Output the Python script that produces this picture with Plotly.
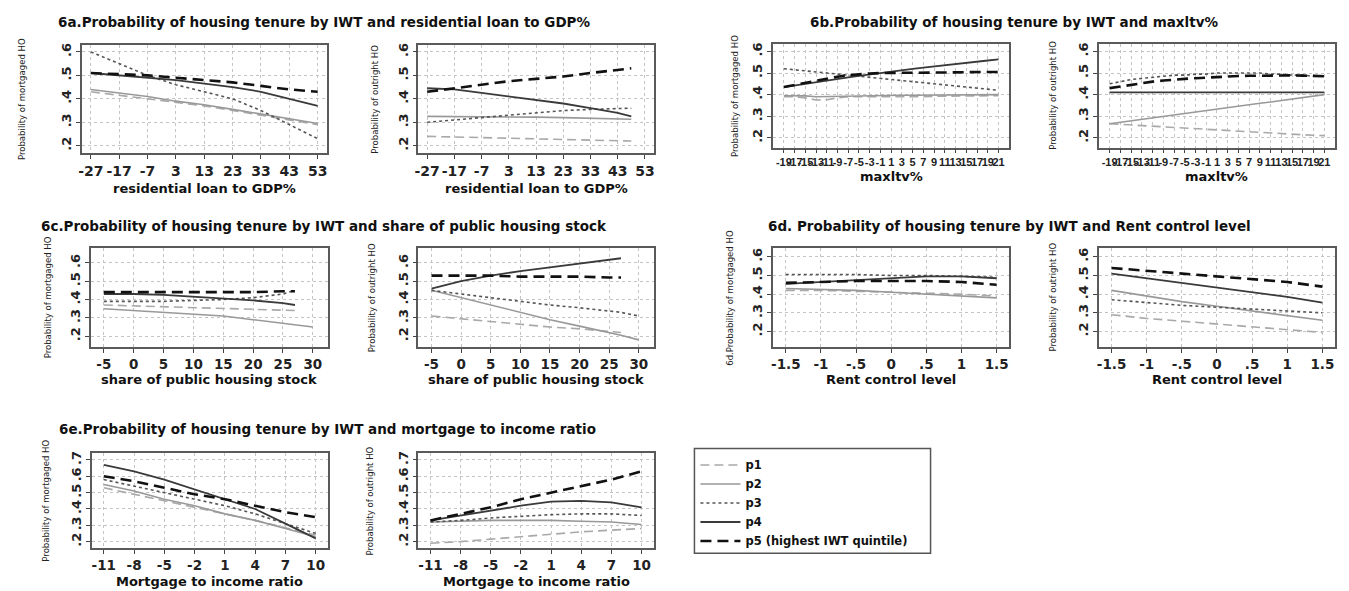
import plotly.graph_objects as go

W, H = 1349, 591

# ---------------- data ----------------
series_names = ["p1", "p2", "p3", "p4", "p5 (highest IWT quintile)"]

# 6a residential loan to GDP%
x6a_l = [-27, -17, -7, 3, 13, 23, 33, 43, 53]
a_l_p1 = [0.43, 0.415, 0.40, 0.385, 0.37, 0.35, 0.33, 0.31, 0.29]
a_l_p2 = [0.44, 0.425, 0.41, 0.39, 0.375, 0.355, 0.335, 0.315, 0.295]
a_l_p3 = [0.60, 0.55, 0.50, 0.46, 0.43, 0.40, 0.35, 0.29, 0.23]
a_l_p4 = [0.51, 0.50, 0.49, 0.48, 0.465, 0.45, 0.43, 0.40, 0.37]
a_l_p5 = [0.51, 0.505, 0.50, 0.49, 0.48, 0.47, 0.455, 0.44, 0.43]

x6a_r = [-27, -17, -7, 3, 13, 23, 33, 43, 48]
a_r_p1 = [0.24, 0.237, 0.235, 0.232, 0.23, 0.227, 0.224, 0.221, 0.22]
a_r_p2 = [0.325, 0.325, 0.324, 0.323, 0.322, 0.32, 0.318, 0.315, 0.313]
a_r_p3 = [0.30, 0.31, 0.32, 0.33, 0.34, 0.35, 0.355, 0.36, 0.36]
a_r_p4 = [0.445, 0.44, 0.425, 0.41, 0.395, 0.38, 0.36, 0.34, 0.325]
a_r_p5 = [0.43, 0.445, 0.46, 0.475, 0.485, 0.495, 0.51, 0.525, 0.53]
ticks_6a = [-27, -17, -7, 3, 13, 23, 33, 43, 53]

# 6b maxltv%
x6b = [-19, -17, -15, -13, -11, -9, -7, -5, -3, -1, 1, 3, 5, 7, 9, 11, 13, 15, 17, 19, 21]
b_l_p1 = [0.39, 0.39, 0.385, 0.375, 0.376, 0.385, 0.39, 0.39, 0.388, 0.39, 0.39, 0.391, 0.39, 0.39, 0.392, 0.392, 0.393, 0.393, 0.394, 0.394, 0.395]
b_l_p2 = [0.395, 0.395, 0.394, 0.39, 0.391, 0.394, 0.395, 0.395, 0.396, 0.396, 0.396, 0.397, 0.397, 0.397, 0.398, 0.398, 0.398, 0.399, 0.399, 0.40, 0.40]
b_l_p3 = [0.52, 0.515, 0.51, 0.506, 0.50, 0.495, 0.49, 0.486, 0.48, 0.476, 0.47, 0.466, 0.46, 0.455, 0.45, 0.446, 0.44, 0.436, 0.43, 0.426, 0.42]
b_l_p4 = [0.435, 0.443, 0.451, 0.458, 0.466, 0.473, 0.48, 0.487, 0.494, 0.50, 0.507, 0.513, 0.519, 0.525, 0.531, 0.537, 0.542, 0.548, 0.553, 0.558, 0.563]
b_l_p5 = [0.435, 0.445, 0.455, 0.465, 0.475, 0.483, 0.49, 0.495, 0.498, 0.50, 0.50, 0.50, 0.501, 0.501, 0.502, 0.502, 0.503, 0.504, 0.505, 0.505, 0.505]

b_r_p1 = [0.265, 0.262, 0.259, 0.256, 0.253, 0.25, 0.247, 0.244, 0.241, 0.238, 0.235, 0.232, 0.229, 0.226, 0.223, 0.22, 0.218, 0.216, 0.214, 0.212, 0.21]
b_r_p2 = [0.265, 0.272, 0.279, 0.286, 0.293, 0.30, 0.306, 0.313, 0.32, 0.326, 0.333, 0.34, 0.346, 0.353, 0.36, 0.366, 0.373, 0.38, 0.386, 0.393, 0.40]
b_r_p3 = [0.45, 0.46, 0.47, 0.475, 0.48, 0.485, 0.49, 0.49, 0.495, 0.495, 0.50, 0.50, 0.50, 0.50, 0.50, 0.495, 0.495, 0.49, 0.49, 0.485, 0.485]
b_r_p4 = [0.41, 0.41, 0.41, 0.41, 0.41, 0.41, 0.41, 0.41, 0.41, 0.41, 0.41, 0.41, 0.41, 0.41, 0.41, 0.41, 0.41, 0.41, 0.41, 0.41, 0.41]
b_r_p5 = [0.43, 0.438, 0.446, 0.453, 0.46, 0.465, 0.47, 0.473, 0.476, 0.479, 0.482, 0.484, 0.486, 0.487, 0.488, 0.489, 0.489, 0.489, 0.488, 0.487, 0.485]

# 6c share of public housing stock
x6c = [-5, 0, 5, 10, 15, 20, 25, 27, 30]
c_l_p1 = [0.37, 0.365, 0.36, 0.355, 0.35, 0.345, 0.34, 0.34, None]
c_l_p2 = [0.35, 0.34, 0.33, 0.32, 0.31, 0.29, 0.27, 0.26, 0.25]
c_l_p3 = [0.39, 0.39, 0.39, 0.395, 0.40, 0.41, 0.43, 0.45, None]
c_l_p4 = [0.43, 0.43, 0.425, 0.415, 0.405, 0.395, 0.38, 0.37, None]
c_l_p5 = [0.44, 0.44, 0.44, 0.44, 0.44, 0.44, 0.445, 0.445, None]

c_r_p1 = [0.31, 0.295, 0.28, 0.265, 0.25, 0.24, 0.225, 0.22, None]
c_r_p2 = [0.45, 0.41, 0.37, 0.33, 0.29, 0.255, 0.22, 0.205, 0.18]
c_r_p3 = [0.45, 0.43, 0.41, 0.39, 0.37, 0.355, 0.335, 0.33, 0.31]
c_r_p4 = [0.46, 0.50, 0.53, 0.555, 0.575, 0.595, 0.615, 0.625, None]
c_r_p5 = [0.53, 0.53, 0.53, 0.525, 0.525, 0.525, 0.52, 0.52, None]
ticks_6c = [-5, 0, 5, 10, 15, 20, 25, 30]

# 6d Rent control level
x6d = [-1.5, -1, -0.5, 0, 0.5, 1, 1.5]
d_l_p1 = [0.42, 0.42, 0.415, 0.41, 0.405, 0.40, 0.39]
d_l_p2 = [0.43, 0.425, 0.42, 0.41, 0.40, 0.39, 0.38]
d_l_p3 = [0.505, 0.505, 0.505, 0.50, 0.50, 0.495, 0.49]
d_l_p4 = [0.455, 0.465, 0.475, 0.485, 0.495, 0.495, 0.485]
d_l_p5 = [0.46, 0.465, 0.47, 0.47, 0.47, 0.465, 0.45]

d_r_p1 = [0.29, 0.27, 0.255, 0.24, 0.225, 0.21, 0.195]
d_r_p2 = [0.42, 0.39, 0.36, 0.335, 0.31, 0.285, 0.26]
d_r_p3 = [0.37, 0.355, 0.34, 0.33, 0.32, 0.31, 0.30]
d_r_p4 = [0.51, 0.485, 0.46, 0.435, 0.41, 0.385, 0.355]
d_r_p5 = [0.54, 0.525, 0.51, 0.495, 0.48, 0.465, 0.44]
ticks_6d = [-1.5, -1, -0.5, 0, 0.5, 1, 1.5]
labels_6d = ["-1.5", "-1", "-.5", "0", ".5", "1", "1.5"]

# 6e Mortgage to income ratio
x6e = [-11, -8, -5, -2, 1, 4, 7, 10]
e_l_p1 = [0.53, 0.49, 0.45, 0.41, 0.37, 0.33, 0.285, 0.24]
e_l_p2 = [0.55, 0.51, 0.46, 0.42, 0.37, 0.33, 0.28, 0.23]
e_l_p3 = [0.58, 0.54, 0.50, 0.46, 0.42, 0.37, 0.31, 0.25]
e_l_p4 = [0.67, 0.63, 0.58, 0.52, 0.46, 0.40, 0.31, 0.22]
e_l_p5 = [0.60, 0.57, 0.53, 0.49, 0.46, 0.42, 0.38, 0.35]

e_r_p1 = [0.19, 0.20, 0.215, 0.23, 0.245, 0.26, 0.27, 0.28]
e_r_p2 = [0.32, 0.325, 0.33, 0.33, 0.33, 0.325, 0.32, 0.305]
e_r_p3 = [0.32, 0.33, 0.345, 0.355, 0.365, 0.37, 0.37, 0.36]
e_r_p4 = [0.33, 0.36, 0.39, 0.42, 0.445, 0.45, 0.44, 0.41]
e_r_p5 = [0.33, 0.37, 0.41, 0.46, 0.50, 0.54, 0.58, 0.63]
ticks_6e = [-11, -8, -5, -2, 1, 4, 7, 10]

yticks_a = [0.2, 0.3, 0.4, 0.5, 0.6]
ylabels_a = [".2", ".3", ".4", ".5", ".6"]
yticks_e = [0.2, 0.3, 0.4, 0.5, 0.6, 0.7]
ylabels_e = [".2", ".3", ".4", ".5", ".6", ".7"]

# ---------------- styling ----------------
FONT = "DejaVu Sans"
NARROWTICK = "Liberation Sans"
NARROW = "DejaVu Sans Condensed, Liberation Sans Narrow, Liberation Sans"
styles = [
    dict(color="#a9a9a9", width=1.6, dash="9px,5px"),
    dict(color="#999999", width=1.6, dash="solid"),
    dict(color="#555555", width=1.6, dash="dot"),
    dict(color="#3a3a3a", width=1.8, dash="solid"),
    dict(color="#111111", width=2.6, dash="11px,6px"),
]

MORT = "Probability of mortgaged HO"
OUT = "Probability of outright HO"

panels = [
    dict(x=x6a_l, ys=[a_l_p1, a_l_p2, a_l_p3, a_l_p4, a_l_p5], px=(78, 324), py=(43, 152),
         xr=[-30.2, 56.2], yr=[0.167, 0.63], xt=ticks_6a, xl=[str(v) for v in ticks_6a], xfs=14, xff=FONT,
         yt=yticks_a, yl=ylabels_a, ytitle=MORT, ytx=17, xtitle="residential loan to GDP%", xty=187),
    dict(x=x6a_r, ys=[a_r_p1, a_r_p2, a_r_p3, a_r_p4, a_r_p5], px=(416, 652), py=(43, 152),
         xr=[-30.2, 56.2], yr=[0.167, 0.63], xt=ticks_6a, xl=[str(v) for v in ticks_6a], xfs=14, xff=FONT,
         yt=yticks_a, yl=ylabels_a, ytitle=OUT, ytx=372, xtitle="residential loan to GDP%", xty=187),
    dict(x=x6b, ys=[b_l_p1, b_l_p2, b_l_p3, b_l_p4, b_l_p5], px=(772, 1009), py=(42, 146),
         xr=[-21, 23], yr=[0.155, 0.635], xt=x6b, xl=[str(v) for v in x6b], xfs=11, xff=NARROWTICK,
         yt=yticks_a, yl=ylabels_a, ytitle=MORT, ytx=733, xtitle="maxltv%", xty=175),
    dict(x=x6b, ys=[b_r_p1, b_r_p2, b_r_p3, b_r_p4, b_r_p5], px=(1099, 1336), py=(42, 146),
         xr=[-21, 23], yr=[0.155, 0.635], xt=x6b, xl=[str(v) for v in x6b], xfs=11, xff=NARROWTICK,
         yt=yticks_a, yl=ylabels_a, ytitle=OUT, ytx=1053, xtitle="maxltv%", xty=175),
    dict(x=x6c, ys=[c_l_p1, c_l_p2, c_l_p3, c_l_p4, c_l_p5], px=(87, 325), py=(247, 346),
         xr=[-7.2, 32.5], yr=[0.142, 0.68], xt=ticks_6c, xl=[str(v) for v in ticks_6c], xfs=13.5, xff=FONT,
         yt=yticks_a, yl=ylabels_a, ytitle=MORT, ytx=44, xtitle="share of public housing stock", xty=379),
    dict(x=x6c, ys=[c_r_p1, c_r_p2, c_r_p3, c_r_p4, c_r_p5], px=(416, 652), py=(247, 346),
         xr=[-7.2, 32.5], yr=[0.142, 0.68], xt=ticks_6c, xl=[str(v) for v in ticks_6c], xfs=13.5, xff=FONT,
         yt=yticks_a, yl=ylabels_a, ytitle=OUT, ytx=369, xtitle="share of public housing stock", xty=379),
    dict(x=x6d, ys=[d_l_p1, d_l_p2, d_l_p3, d_l_p4, d_l_p5], px=(772, 1009), py=(247, 346),
         xr=[-1.68, 1.68], yr=[0.118, 0.646], xt=ticks_6d, xl=labels_6d, xfs=13.5, xff=FONT,
         yt=yticks_a, yl=ylabels_a, ytitle="6d.Probability of mortgaged HO", ytx=728, xtitle="Rent control level", xty=379),
    dict(x=x6d, ys=[d_r_p1, d_r_p2, d_r_p3, d_r_p4, d_r_p5], px=(1099, 1336), py=(247, 346),
         xr=[-1.68, 1.68], yr=[0.118, 0.646], xt=ticks_6d, xl=labels_6d, xfs=13.5, xff=FONT,
         yt=yticks_a, yl=ylabels_a, ytitle=OUT, ytx=1052, xtitle="Rent control level", xty=379),
    dict(x=x6e, ys=[e_l_p1, e_l_p2, e_l_p3, e_l_p4, e_l_p5], px=(88, 325), py=(453, 548),
         xr=[-12.2, 11.2], yr=[0.16, 0.74], xt=ticks_6e, xl=[str(v) for v in ticks_6e], xfs=13.5, xff=FONT,
         yt=yticks_e, yl=ylabels_e, ytitle=MORT, ytx=42, xtitle="Mortgage to income ratio", xty=581),
    dict(x=x6e, ys=[e_r_p1, e_r_p2, e_r_p3, e_r_p4, e_r_p5], px=(416, 652), py=(453, 548),
         xr=[-12.2, 11.2], yr=[0.16, 0.74], xt=ticks_6e, xl=[str(v) for v in ticks_6e], xfs=13.5, xff=FONT,
         yt=yticks_e, yl=ylabels_e, ytitle=OUT, ytx=367, xtitle="Mortgage to income ratio", xty=581),
]

titles = [
    ("6a.Probability of housing tenure by IWT and residential loan to GDP%", 52, 20),
    ("6b.Probability of housing tenure by IWT and maxltv%", 807, 20),
    ("6c.Probability of housing tenure by IWT and share of public housing stock", 35, 225),
    ("6d. Probability of housing tenure by IWT and Rent control level", 765, 225),
    ("6e.Probability of housing tenure by IWT and mortgage to income ratio", 53, 428),
]

fig = go.Figure()
layout = dict(width=W, height=H, margin=dict(l=0, r=0, t=0, b=0),
              paper_bgcolor="white", plot_bgcolor="white", annotations=[], shapes=[])


def px2x(v):
    return v / W


def px2y(v):
    return 1 - v / H


for i, p in enumerate(panels):
    sfx = "" if i == 0 else str(i + 1)
    xa, ya = "x" + sfx, "y" + sfx
    for k, yv in enumerate(p["ys"]):
        st = styles[k]
        fig.add_trace(go.Scatter(
            x=p["x"], y=yv, mode="lines", name=series_names[k], legendgroup=series_names[k],
            showlegend=(i == 0), xaxis=xa, yaxis=ya, connectgaps=False,
            line=dict(color=st["color"], width=st["width"], dash=st["dash"]), hoverinfo="skip"))
    common = dict(showline=True, mirror=True, linecolor="#5a5a5a", linewidth=1.5,
                  ticks="outside", ticklen=4, tickwidth=1.2, tickcolor="#444",
                  showgrid=True, gridcolor="#c4c4c4", griddash="dot", gridwidth=1,
                  zeroline=False, fixedrange=True)
    layout["xaxis" + sfx] = dict(common, domain=[px2x(p["px"][0]), px2x(p["px"][1])], anchor=ya,
                                 range=p["xr"], tickvals=p["xt"], ticktext=p["xl"], tickangle=0,
                                 tickfont=dict(family=p["xff"], size=p["xfs"], color="#222", weight="bold"))
    layout["yaxis" + sfx] = dict(common, domain=[px2y(p["py"][1]), px2y(p["py"][0])], anchor=xa,
                                 range=p["yr"], tickvals=p["yt"], ticktext=p["yl"], tickangle=-90,
                                 tickfont=dict(family=FONT, size=13, color="#222", weight="bold"))
    cy = (p["py"][0] + p["py"][1]) / 2
    layout["annotations"].append(dict(
        text=p["ytitle"], x=px2x(p["ytx"]), y=px2y(cy), xref="paper", yref="paper",
        showarrow=False, textangle=-90, xanchor="center", yanchor="middle",
        font=dict(family=NARROW, size=9.5, color="#222")))
    cx = (p["px"][0] + p["px"][1]) / 2
    layout["annotations"].append(dict(
        text=p["xtitle"], x=px2x(cx), y=px2y(p["xty"]), xref="paper", yref="paper",
        showarrow=False, xanchor="center", yanchor="middle",
        font=dict(family=FONT, size=13, color="#111", weight="bold")))

for t, tx, ty in titles:
    layout["annotations"].append(dict(
        text=t, x=px2x(tx), y=px2y(ty), xref="paper", yref="paper", showarrow=False,
        xanchor="left", yanchor="middle",
        font=dict(family=FONT, size=13.5, color="#111", weight="bold")))

# legend frame
layout["shapes"].append(dict(type="rect", xref="paper", yref="paper",
                             x0=px2x(693), x1=px2x(930), y0=px2y(553), y1=px2y(448),
                             line=dict(color="#555", width=1.5), fillcolor="rgba(0,0,0,0)"))
layout["legend"] = dict(x=px2x(694), y=px2y(450), xanchor="left", yanchor="top",
                        bgcolor="rgba(0,0,0,0)", borderwidth=0, tracegroupgap=0, itemwidth=40,
                        font=dict(family=FONT, size=11.5, color="#111", weight="bold"))
layout["showlegend"] = True

fig.update_layout(**layout)
fig.write_html("out.html")
